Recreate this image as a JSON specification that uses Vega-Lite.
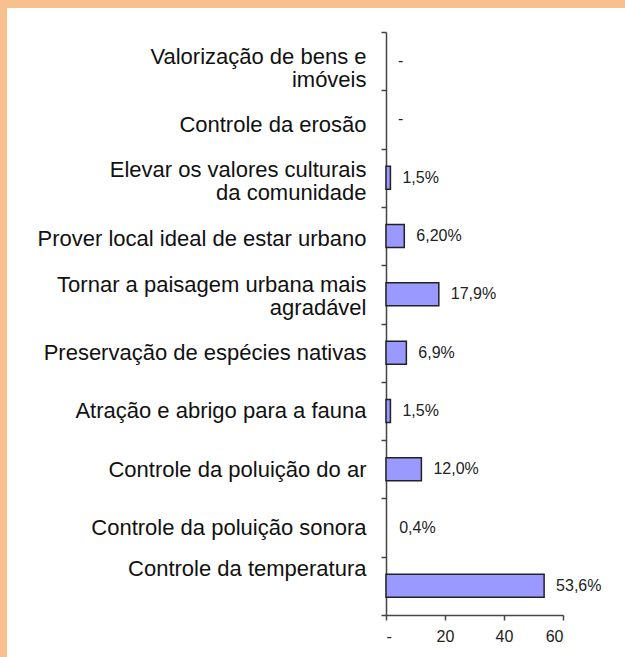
{
  "$schema": "https://vega.github.io/schema/vega-lite/v6.json",
  "width": 618,
  "height": 649,
  "autosize": "none",
  "padding": {"left": 7, "top": 8, "right": 0, "bottom": 0},
  "background": "#F9C08F",
  "view": {"fill": "white", "stroke": null},
  "data": {
    "values": [
      {"cat": "Valorização de bens e|imóveis", "value": 0, "label": "-"},
      {"cat": "Controle da erosão", "value": 0, "label": "-"},
      {"cat": "Elevar os valores culturais|da comunidade", "value": 1.5, "label": "1,5%"},
      {"cat": "Prover local ideal de estar urbano", "value": 6.2, "label": "6,20%"},
      {"cat": "Tornar a paisagem urbana mais|agradável", "value": 17.9, "label": "17,9%"},
      {"cat": "Preservação de espécies nativas", "value": 6.9, "label": "6,9%"},
      {"cat": "Atração e abrigo para a fauna", "value": 1.5, "label": "1,5%"},
      {"cat": "Controle da poluição do ar", "value": 12.0, "label": "12,0%"},
      {"cat": "Controle da poluição sonora", "value": 0.4, "label": "0,4%"},
      {"cat": "Controle da temperatura", "value": 53.6, "label": "53,6%"}
    ]
  },
  "encoding": {
    "y": {
      "field": "cat",
      "type": "nominal",
      "sort": [
        "Valorização de bens e|imóveis",
        "Controle da erosão",
        "Elevar os valores culturais|da comunidade",
        "Prover local ideal de estar urbano",
        "Tornar a paisagem urbana mais|agradável",
        "Preservação de espécies nativas",
        "Atração e abrigo para a fauna",
        "Controle da poluição do ar",
        "Controle da poluição sonora",
        "Controle da temperatura"
      ],
      "scale": {"range": [24, 607], "paddingInner": 0, "paddingOuter": 0},
      "axis": {
        "title": null,
        "orient": "left",
        "offset": -379,
        "tickBand": "extent",
        "tickSize": 5,
        "tickColor": "#444",
        "tickWidth": 1.5,
        "domainColor": "#444",
        "domainWidth": 1.5,
        "labelPadding": 15,
        "labelFont": "Liberation Sans",
        "labelFontSize": 22,
        "labelColor": "#111",
        "labelLineHeight": 23,
        "labelLimit": 400,
        "labelExpr": "split(datum.label, '|')",
        "labelOffset": {
          "condition": [
            {"test": "datum.value == 'Controle da temperatura'", "value": -17},
            {"test": "datum.value == 'Controle da erosão'", "value": 5},
            {"test": "datum.value == 'Valorização de bens e|imóveis'", "value": -5},
            {"test": "datum.value == 'Elevar os valores culturais|da comunidade'", "value": -8},
            {"test": "datum.value == 'Tornar a paisagem urbana mais|agradável'", "value": -10},
            {"test": "datum.value == 'Prover local ideal de estar urbano'", "value": 2}
          ],
          "value": 0
        }
      }
    }
  },
  "layer": [
    {
      "transform": [{"filter": "datum.value >= 1"}],
      "mark": {"type": "bar", "fill": "#9999FF", "stroke": "#222", "strokeWidth": 1.5, "size": 23},
      "encoding": {
        "x": {
          "field": "value",
          "type": "quantitative",
          "scale": {"domain": [0, 60], "range": [379, 556], "nice": false, "zero": true},
          "axis": {
            "title": null,
            "orient": "bottom",
            "offset": -42,
            "values": [0, 20, 40, 60],
            "labelExpr": "datum.value == 0 ? '-' : datum.label",
            "grid": false,
            "tickSize": 5,
            "tickColor": "#444",
            "tickWidth": 1.5,
            "domainColor": "#444",
            "domainWidth": 1.5,
            "labelFont": "Liberation Sans",
            "labelFontSize": 16,
            "labelColor": "#222",
            "labelPadding": 8
          }
        }
      }
    },
    {
      "mark": {"type": "text", "align": "left", "baseline": "middle", "dx": 12, "fontSize": 16, "font": "Liberation Sans", "color": "#222"},
      "encoding": {
        "x": {"field": "value", "type": "quantitative"},
        "text": {"field": "label"}
      }
    }
  ]
}
